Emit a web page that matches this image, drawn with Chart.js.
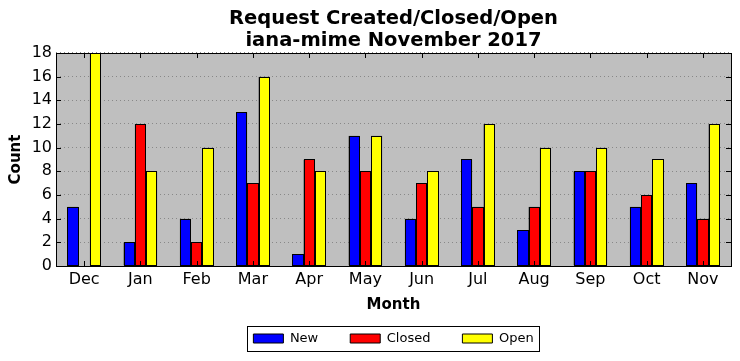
<!DOCTYPE html>
<html>
<head>
<meta charset="utf-8">
<script src="https://cdn.jsdelivr.net/npm/chart.js@4.4.0/dist/chart.umd.min.js"></script>
<style>
html,body{margin:0;padding:0;background:#fff;}
#wrap{width:740px;height:361px;position:relative;}
</style>
</head>
<body>
<div id="wrap"><canvas id="c" width="740" height="361"></canvas></div>
<script>
const months = ['Dec','Jan','Feb','Mar','Apr','May','Jun','Jul','Aug','Sep','Oct','Nov'];
const newVals = [5,2,4,13,1,11,4,9,3,8,5,7];
const closedVals = [0,12,2,7,9,8,7,5,5,8,6,4];
const openVals = [18,8,10,16,8,11,8,12,10,10,9,12];
const yTicks = [0,2,4,6,8,10,12,14,16,18];

const FONT = "'DejaVu Sans', sans-serif";

const frame = {
  id: 'frame',
  beforeDraw(chart) {
    const a = chart.chartArea, ctx = chart.ctx;
    ctx.save();
    ctx.fillStyle = '#bfbfbf';
    ctx.fillRect(a.left, a.top, a.right - a.left, a.bottom - a.top);
    ctx.restore();
  },
  afterDatasetsDraw(chart) {
    const a = chart.chartArea, ctx = chart.ctx;
    const xs = chart.scales.x, ys = chart.scales.y;
    ctx.save();
    ctx.strokeStyle = '#000';
    ctx.lineWidth = 1;
    // crisp outlines on the library's bar elements
    chart.data.datasets.forEach((ds, di) => {
      const meta = chart.getDatasetMeta(di);
      meta.data.forEach(el => {
        const p = el.getProps(['x', 'y', 'base', 'width'], true);
        if (Math.abs(p.base - p.y) < 0.5) return;
        const l = Math.round(p.x - p.width / 2) + 0.5;
        const r = Math.round(p.x + p.width / 2) - 0.5;
        const t = Math.round(Math.min(p.y, p.base)) + 0.5;
        const b = Math.round(Math.max(p.y, p.base)) - 0.5;
        ctx.fillStyle = ds.backgroundColor;
        ctx.fillRect(l - 0.5, t - 0.5, r - l + 1, b - t + 1);
        ctx.strokeRect(l, t, r - l, b - t);
      });
    });
    ctx.beginPath();
    const L = 5;
    xs.ticks.forEach((t, i) => {
      const x = Math.round(xs.getPixelForTick(i)) + 0.5;
      ctx.moveTo(x, a.top); ctx.lineTo(x, a.top + L);
      ctx.moveTo(x, a.bottom); ctx.lineTo(x, a.bottom - L);
    });
    ys.ticks.forEach((t, i) => {
      const y = Math.round(ys.getPixelForTick(i)) + 0.5;
      ctx.moveTo(a.left, y); ctx.lineTo(a.left + L, y);
      ctx.moveTo(a.right, y); ctx.lineTo(a.right - L, y);
    });
    ctx.stroke();
    ctx.strokeRect(Math.round(a.left) + 0.5, Math.round(a.top) + 0.5, Math.round(a.right - a.left), Math.round(a.bottom - a.top));
    ctx.restore();
  },
  afterDraw(chart) {
    const lg = chart.legend;
    if (!lg || !lg.legendHitBoxes || !lg.legendHitBoxes.length) return;
    const hb = lg.legendHitBoxes;
    let l = Infinity, r = -Infinity, t = Infinity, b = -Infinity;
    hb.forEach(h => { l = Math.min(l, h.left); r = Math.max(r, h.left + h.width); t = Math.min(t, h.top); b = Math.max(b, h.top + h.height); });
    const ctx = chart.ctx;
    ctx.save();
    ctx.strokeStyle = '#000';
    ctx.lineWidth = 1;
    ctx.strokeRect(Math.round(l - 6) + 0.5, Math.round(t - 6) + 0.5, Math.round(r - l + 12), Math.round(b - t + 12));
    ctx.restore();
  }
};

new Chart(document.getElementById('c'), {
  type: 'bar',
  data: {
    labels: months,
    datasets: [
      {label: 'New', data: newVals, backgroundColor: '#0000ff', borderColor: '#000', borderWidth: 1, borderSkipped: false, inflateAmount: 0},
      {label: 'Closed', data: closedVals, backgroundColor: '#ff0000', borderColor: '#000', borderWidth: 1, borderSkipped: false, inflateAmount: 0},
      {label: 'Open', data: openVals, backgroundColor: '#ffff00', borderColor: '#000', borderWidth: 1, borderSkipped: false, inflateAmount: 0}
    ]
  },
  options: {
    responsive: false,
    animation: false,
    devicePixelRatio: 1,
    layout: {padding: {left: 0, right: 9, top: 0, bottom: 6}},
    datasets: {bar: {categoryPercentage: 0.6, barPercentage: 1.0}},
    plugins: {
      tooltip: {enabled: false},
      title: {
        display: true,
        fullSize: false,
        text: ['Request Created/Closed/Open', 'iana-mime November 2017'],
        color: '#000',
        font: {family: FONT, size: 19.5, weight: 'bold', lineHeight: 1.128},
        padding: {top: 8, bottom: 1}
      },
      legend: {
        position: 'bottom',
        fullSize: false,
        labels: {
          color: '#000',
          font: {family: FONT, size: 13},
          boxWidth: 30,
          boxHeight: 9,
          padding: 32,
          useBorderRadius: false
        }
      }
    },
    scales: {
      x: {
        grid: {display: false, drawTicks: false},
        border: {display: false},
        ticks: {color: '#000', font: {family: FONT, size: 16}, padding: 4, maxRotation: 0},
        title: {display: true, text: 'Month', color: '#000', font: {family: FONT, size: 15, weight: 'bold'}, padding: {top: 2.8, bottom: -14}}
      },
      y: {
        min: 0, max: 18,
        afterFit(s) { s.width = 56; },
        afterBuildTicks(s) { s.ticks = yTicks.map(v => ({value: v})); },
        grid: {display: true, drawTicks: false, color: '#888888', lineWidth: 1},
        border: {display: false, dash: [1, 3]},
        ticks: {color: '#000', font: {family: FONT, size: 16}, padding: 4},
        title: {display: true, text: 'Count', color: '#000', font: {family: FONT, size: 15, weight: 'bold'}, padding: {top: 7, bottom: 0}}
      }
    }
  },
  plugins: [frame]
});
</script>
</body>
</html>
